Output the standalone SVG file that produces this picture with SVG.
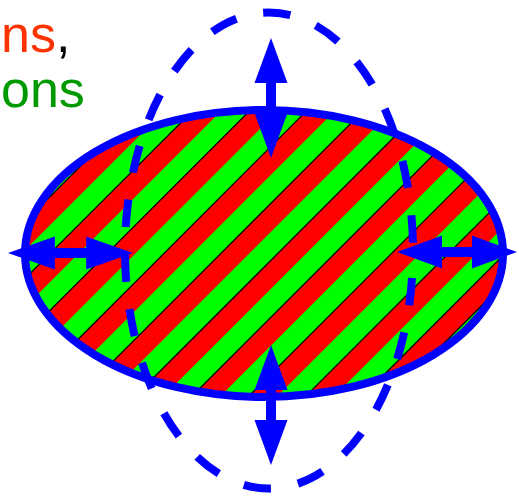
<svg xmlns="http://www.w3.org/2000/svg" xmlns:xlink="http://www.w3.org/1999/xlink" width="519" height="498" viewBox="0 0 519 498">
  <style>
    .lbl { font-family: "Liberation Sans", Arial, Helvetica, sans-serif; font-size: 52px; }
    .stripe { fill: #00ff00; stroke: none; }
    .edge { fill: none; stroke: #000000; stroke-width: 1.3; stroke-linejoin: miter; }
    .sliver { fill: #00ff00; stroke: #000000; stroke-width: 1.3; }
    .blue { fill: #0000ff; stroke: none; }
  </style>
  <defs>
    <polygon id="dblarrow" points="-60,0 -15,-16.5 -15,-5 15,-5 15,-16.5 60,0 15,16.5 15,5 -15,5 -15,16.5"/>
  </defs>
  <rect width="519" height="498" fill="#ffffff"/>

  <g id="labels">
    <text class="lbl" x="1" y="52"><tspan fill="#ff3300">ns</tspan><tspan fill="#000000">,</tspan></text>
    <text class="lbl" x="1" y="107" fill="#009900">ons</text>
  </g>

  <g id="hatched-ellipse">
    <ellipse cx="264" cy="253.5" rx="239" ry="143.5" fill="#ff0000"/>
    <g id="green-stripes">
      <path class="sliver" d="M35.75 210.95 Q60.75 177.55 94.15 152.54 Z"/>
      <polygon class="stripe" points="25.07,250.07 146.62,128.5 185.68,117.92 27.88,275.73"/>
      <polygon class="stripe" points="35.83,296.22 219.55,112.5 250.24,110.24 46.94,313.55"/>
      <polygon class="stripe" points="60.35,328.61 278.67,110.27 305.26,112.15 75.62,341.81"/>
      <polygon class="stripe" points="92.46,353.42 330.24,115.62 353.78,120.51 110.71,363.59"/>
      <polygon class="stripe" points="130.31,372.45 375.99,126.73 396.95,134.25 151.22,380.02"/>
      <polygon class="stripe" points="173.37,386.28 416.61,143.07 435.01,153.25 196.88,391.22"/>
      <polygon class="stripe" points="221.81,394.75 451.82,164.76 467.14,177.89 248.31,396.69"/>
      <polygon class="stripe" points="276.66,396.8 480.61,192.86 491.8,210.09 307.28,394.63"/>
      <polygon class="stripe" points="340.99,389.35 499.89,230.44 502.97,255.82 379.75,379.05"/>
      <path class="sliver" d="M431.22 356.03 Q466.47 329.18 493.32 293.92 Z"/>
    </g>
    <g id="stripe-edges">
      <polyline class="edge" points="146.62,128.5 185.68,117.92 27.88,275.73 25.07,250.07"/>
      <polyline class="edge" points="219.55,112.5 250.24,110.24 46.94,313.55 35.83,296.22"/>
      <polyline class="edge" points="278.67,110.27 305.26,112.15 75.62,341.81 60.35,328.61"/>
      <polyline class="edge" points="330.24,115.62 353.78,120.51 110.71,363.59 92.46,353.42"/>
      <polyline class="edge" points="375.99,126.73 396.95,134.25 151.22,380.02 130.31,372.45"/>
      <polyline class="edge" points="416.61,143.07 435.01,153.25 196.88,391.22 173.37,386.28"/>
      <polyline class="edge" points="451.82,164.76 467.14,177.89 248.31,396.69 221.81,394.75"/>
      <polyline class="edge" points="480.61,192.86 491.8,210.09 307.28,394.63 276.66,396.8"/>
      <polyline class="edge" points="499.89,230.44 502.97,255.82 379.75,379.05 340.99,389.35"/>
    </g>
    <ellipse cx="264" cy="253.5" rx="239" ry="143.5" fill="none" stroke="#0000ff" stroke-width="8"/>
  </g>

  <g id="dashed-ellipse">
    <ellipse cx="269" cy="250.5" rx="144" ry="238" fill="none" stroke="#0000ff" stroke-width="8" stroke-dasharray="27.5 27.5" stroke-dashoffset="27.5"/>
  </g>

  <g id="arrows">
    <use xlink:href="#dblarrow" class="blue" transform="translate(271,98) rotate(90)"/>
    <use xlink:href="#dblarrow" class="blue" transform="translate(271,405) rotate(90)"/>
    <use xlink:href="#dblarrow" class="blue" transform="translate(70.5,253) scale(1.042,1)"/>
    <use xlink:href="#dblarrow" class="blue" transform="translate(457,252)"/>
  </g>
</svg>
